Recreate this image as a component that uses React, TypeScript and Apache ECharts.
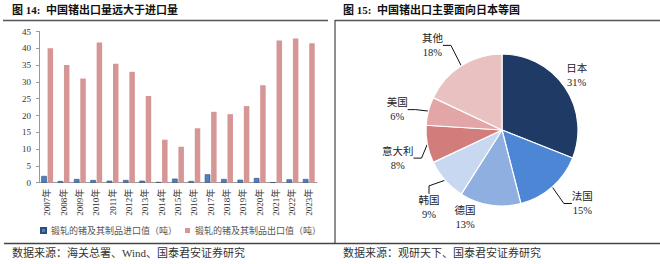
import React, { useEffect, useRef } from 'react';
import * as echarts from 'echarts';

const years = ['2007年', '2008年', '2009年', '2010年', '2011年', '2012年', '2013年', '2014年', '2015年', '2016年', '2017年', '2018年', '2019年', '2020年', '2021年', '2022年', '2023年'];
const importValues = [2.0, 0.5, 1.1, 0.8, 0.6, 0.8, 0.6, 0.2, 1.2, 0.5, 2.5, 1.1, 0.9, 1.4, 0.1, 1.0, 1.1];
const exportValues = [40.0, 35.0, 31.0, 41.7, 35.4, 33.0, 25.8, 12.8, 10.7, 16.2, 21.1, 20.4, 22.8, 29.0, 42.3, 42.9, 41.5];
const seriesNames = ['锻轧的锗及其制品进口值（吨）', '锻轧的锗及其制品出口值（吨）'];
const yMin = 0;
const yMax = 45;
const yInterval = 5;

const destinations = ['日本', '法国', '德国', '韩国', '意大利', '美国', '其他'];
const shares = [31, 15, 13, 9, 8, 6, 18];

const leftTitle = '图 14:  中国锗出口量远大于进口量';
const rightTitle = '图 15:  中国锗出口主要面向日本等国';
const leftSource = '数据来源：海关总署、Wind、国泰君安证券研究';
const rightSource = '数据来源：观研天下、国泰君安证券研究';

const FONT = "'Liberation Serif', 'Noto Sans CJK SC', serif";
const pieColors = ['#1F3A64', '#4C86D4', '#8FAFE0', '#C8D8F0', '#D27C7C', '#E2A6A6', '#E9C1C1'];
const noLeader = ['日本', '德国'];
// small label nudges (style only), by slice name
const labelNudge: Record<string, [number, number]> = {
  '日本': [-20, -6],
  '法国': [0, 9],
  '德国': [0, 3],
  '韩国': [15, 21],
  '意大利': [9, 12],
  '美国': [2, 1],
  '其他': [0, -12],
};

export default function App() {
  const ref = useRef<HTMLDivElement>(null);
  useEffect(() => {
    document.body.style.margin = '0';
    const chart = echarts.init(ref.current!, null, { renderer: 'svg' });
    const option: any = {
      animation: false,
      backgroundColor: '#fff',
      textStyle: { fontFamily: FONT },
      grid: { left: 39, top: 31.5, width: 278, height: 151.2, containLabel: false },
      legend: {
        data: seriesNames,
        left: 35,
        top: 221,
        icon: 'rect',
        itemWidth: 5,
        itemHeight: 5,
        itemGap: 8,
        textStyle: { fontSize: 9, color: '#555', fontFamily: FONT },
      },
      xAxis: {
        type: 'category',
        data: years,
        axisLine: { lineStyle: { color: '#999', width: 1 } },
        axisTick: { show: false },
        axisLabel: { rotate: 90, fontSize: 9, color: '#333', margin: 6, interval: 0, fontFamily: FONT },
      },
      yAxis: {
        type: 'value',
        min: yMin,
        max: yMax,
        interval: yInterval,
        splitLine: { show: false },
        axisLine: { show: true, lineStyle: { color: '#999', width: 1 } },
        axisTick: { show: true, length: 3, lineStyle: { color: '#999' } },
        axisLabel: { fontSize: 9, color: '#333', margin: 8, fontFamily: FONT },
      },
      series: [
        {
          name: seriesNames[0],
          type: 'bar',
          data: importValues,
          barWidth: 5.5,
          barGap: '15%',
          itemStyle: { color: '#4F81BD', borderColor: '#2D4F7C', borderWidth: 0.6 },
        },
        {
          name: seriesNames[1],
          type: 'bar',
          data: exportValues,
          barWidth: 5.5,
          itemStyle: { color: '#D69696' },
        },
        {
          name: '出口去向',
          type: 'pie',
          center: [502, 130],
          radius: [0, 76],
          startAngle: 90,
          clockwise: true,
          avoidLabelOverlap: false,
          data: destinations.map((n, i) => ({
            name: n,
            value: shares[i],
            itemStyle: { color: pieColors[i] },
            labelLine: { show: noLeader.indexOf(n) < 0 },
          })),
          itemStyle: { borderColor: '#fff', borderWidth: 1.2 },
          label: {
            show: true,
            position: 'outside',
            formatter: '{b}\n{c}%',
            fontSize: 10.5,
            lineHeight: 14,
            color: '#222',
            fontFamily: FONT,
          },
          labelLine: {
            show: true,
            length: 10,
            length2: 8,
            lineStyle: { color: '#111', width: 1 },
          },
          labelLayout: (p: any) => {
            const r = p.labelRect;
            const name = destinations[p.dataIndex];
            const nudge = labelNudge[name] || [0, 0];
            return { x: r.x + r.width / 2 + nudge[0], dy: nudge[1], align: 'center' };
          },
          emphasis: { disabled: true },
        },
      ],
      graphic: [
        { type: 'text', left: 12, top: 4, style: { text: leftTitle, font: `bold 11px ${FONT}`, fill: '#111' } },
        { type: 'text', left: 343, top: 4, style: { text: rightTitle, font: `bold 11px ${FONT}`, fill: '#111' } },
        { type: 'line', shape: { x1: 3, y1: 20.5, x2: 328, y2: 20.5 }, style: { stroke: '#555', lineWidth: 1.5 } },
        { type: 'line', shape: { x1: 335, y1: 20.5, x2: 660, y2: 20.5 }, style: { stroke: '#555', lineWidth: 1.5 } },
        { type: 'line', shape: { x1: 335, y1: 20, x2: 335, y2: 243.5 }, style: { stroke: '#444', lineWidth: 1.2 } },
        { type: 'line', shape: { x1: 4, y1: 243.5, x2: 660, y2: 243.5 }, style: { stroke: '#444', lineWidth: 1.3 } },
        { type: 'text', left: 12, top: 247, style: { text: leftSource, font: `11px ${FONT}`, fill: '#333' } },
        { type: 'text', left: 343, top: 247, style: { text: rightSource, font: `11px ${FONT}`, fill: '#333' } },
      ],
    };
    chart.setOption(option);
    return () => chart.dispose();
  }, []);
  return <div ref={ref} style={{ position: 'absolute', left: 0, top: 0, width: 660, height: 264, background: '#fff' }} />;
}
